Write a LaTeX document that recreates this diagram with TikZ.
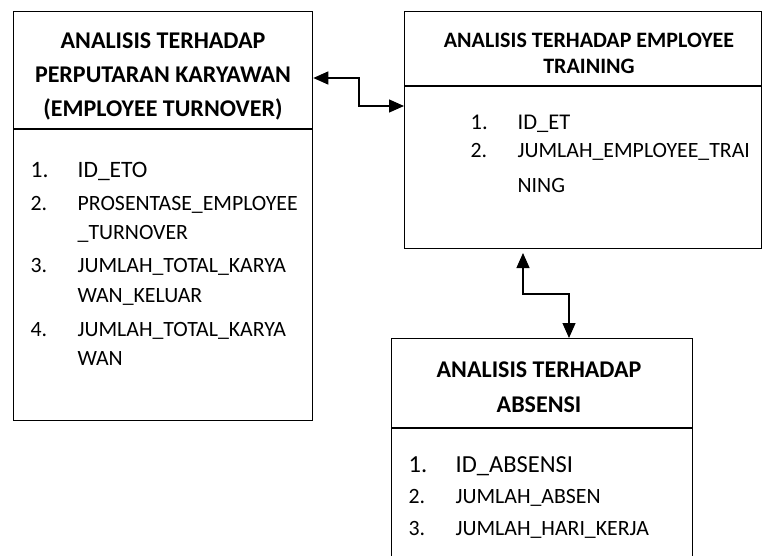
\documentclass[tikz,border=0pt]{standalone}
\usepackage{fontspec}
\setmainfont{Carlito}
\usetikzlibrary{arrows.meta}
\begin{document}
\begin{tikzpicture}[x=1pt,y=-1pt,line width=1.3pt,
  box/.style={draw,rectangle,anchor=north west,inner sep=0pt},
  hd/.style={font=\fontsize{24}{24}\selectfont\bfseries,anchor=base,inner sep=0pt},
  hds/.style={font=\fontsize{22}{22}\selectfont\bfseries,anchor=base,inner sep=0pt},
  bd/.style={font=\fontsize{21.8}{22}\selectfont,anchor=base west,inner sep=0pt},
  bdl/.style={font=\fontsize{23.5}{24}\selectfont,anchor=base west,inner sep=0pt},
  tip/.style={Triangle[length=15pt,width=13pt]},
  arr/.style={{Triangle[length=15pt,width=13pt]}-{Triangle[length=15pt,width=13pt]}}]
\useasboundingbox (0,0) rectangle (762,556);
\clip (0,0) rectangle (762,556);
% boxes
\node[box,minimum width=299pt,minimum height=409pt] (L) at (13,11) {};
\node[box,minimum width=357pt,minimum height=237pt] (R) at (404,11) {};
\node[box,minimum width=301pt,minimum height=240pt] (B) at (391,338) {};
\draw (L.west |- 0,129) -- (L.east |- 0,129);
\draw (R.west |- 0,86) -- (R.east |- 0,86);
\draw (B.west |- 0,428) -- (B.east |- 0,428);
% left box text
\node[hd] (l1) at (163,49) {ANALISIS TERHADAP};
\node[hd] (l2) at (163,83) {PERPUTARAN KARYAWAN};
\node[hd] (l3) at (163,117) {(EMPLOYEE TURNOVER)};
\node[bdl] (ln1) at (30,177) {1.};
\node[bdl] (lt1) at (77,177) {ID\_ETO};
\node[bd] (ln2) at (30,210) {2.};
\node[bd] (lt2) at (77,210) {PROSENTASE\_EMPLOYEE};
\node[bd] (lt2b) at (77,239) {\_TURNOVER};
\node[bd] (ln3) at (30,272) {3.};
\node[bd] (lt3) at (77,272) {JUMLAH\_TOTAL\_KARYA};
\node[bd] (lt3b) at (77,302) {WAN\_KELUAR};
\node[bd] (ln4) at (30,336) {4.};
\node[bd] (lt4) at (77,336) {JUMLAH\_TOTAL\_KARYA};
\node[bd] (lt4b) at (77,365) {WAN};
% right box text
\node[hds] (r1) at (589,48) {ANALISIS TERHADAP EMPLOYEE};
\node[hds] (r2) at (589,74) {TRAINING};
\node[bd,font=\fontsize{22.5}{23}\selectfont] (rn1) at (470,130) {1.};
\node[bd,font=\fontsize{22.5}{23}\selectfont] (rt1) at (517,130) {ID\_ET};
\node[bd] (rn2) at (470,158) {2.};
\node[bd] (rt2) at (517,158) {JUMLAH\_EMPLOYEE\_TRAI};
\node[bd] (rt2b) at (517,193) {NING};
% bottom box text
\node[hd] (b1) at (539,377) {ANALISIS TERHADAP};
\node[hd] (b2) at (539,412) {ABSENSI};
\node[bd,font=\fontsize{24.5}{25}\selectfont] (bn1) at (408,472) {1.};
\node[bd,font=\fontsize{24.5}{25}\selectfont] (bt1) at (455,472) {ID\_ABSENSI};
\node[bd] (bn2) at (408,503) {2.};
\node[bd] (bt2) at (455,503) {JUMLAH\_ABSEN};
\node[bd] (bn3) at (408,535) {3.};
\node[bd] (bt3) at (455,535) {JUMLAH\_HARI\_KERJA};
% connectors
\coordinate (c1a) at (L.east |- 0,78);
\coordinate (c1m) at (359,78);
\coordinate (c1b) at (R.west |- 0,106);
\draw[arr] (c1a) -- (c1m) |- (c1b);
\coordinate (c2a) at (523,253);
\coordinate (c2m) at (523,294);
\coordinate (c2b) at (B.north -| 569,0);
\draw[arr] (c2a) -- (c2m) -| (c2b);
\end{tikzpicture}
\end{document}
